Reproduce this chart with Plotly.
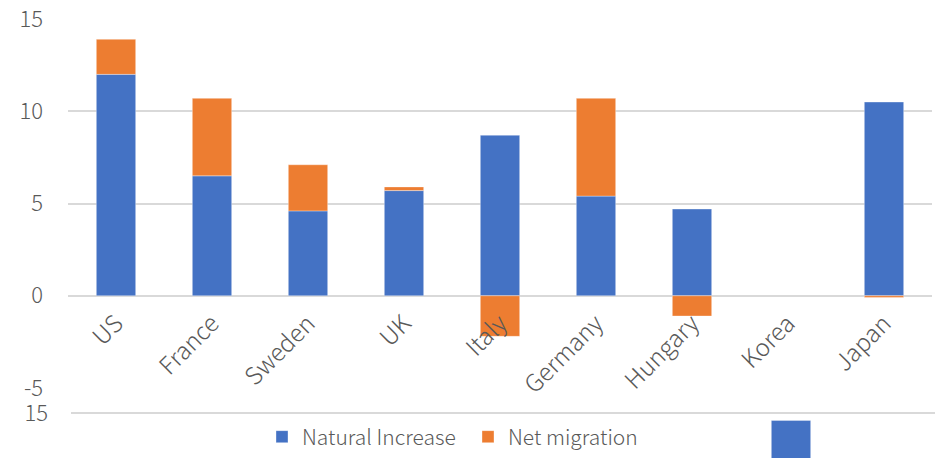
import plotly.graph_objects as go

# Population change components by country (per 1,000)
countries = ["US", "France", "Sweden", "UK", "Italy", "Germany", "Hungary", "Korea", "Japan"]
natural_increase = [12.0, 6.5, 4.6, 5.7, 8.7, 5.4, 4.7, None, 10.5]
net_migration = [1.9, 4.2, 2.5, 0.2, -2.2, 5.3, -1.1, None, -0.1]

# Lower panel (partly visible companion chart)
lower_values = [None, None, None, None, None, None, None, 14.6, None]

y_ticks = [-5, 0, 5, 10, 15]
y_tick_text = ["-5", "0", "5", "10", "15"]
lower_ticks = [15]

BLUE = "#4472C4"
ORANGE = "#ED7D31"
GRID = "#D9D9D9"
TEXT = "#595959"
FONT = "Noto Sans CJK JP"
EDGE = "rgba(255,255,255,0.35)"

W, H = 936, 458

fig = go.Figure()
fig.add_trace(go.Bar(
    x=countries, y=natural_increase, name="Natural Increase",
    marker=dict(color=BLUE, line=dict(color=EDGE, width=1)),
    xaxis="x", yaxis="y",
))
fig.add_trace(go.Bar(
    x=countries, y=net_migration, name="Net migration",
    marker=dict(color=ORANGE, line=dict(color=EDGE, width=1)),
    xaxis="x", yaxis="y",
))
fig.add_trace(go.Bar(
    x=countries, y=lower_values, name="", showlegend=False,
    marker=dict(color=BLUE, line=dict(color=EDGE, width=1)),
    xaxis="x2", yaxis="y2",
))

# pixel geometry of the two panels
main_top, main_bottom = 19, 388
px_per_unit = (main_bottom - main_top) / 20.0
zero_px = main_top + 15 * px_per_unit
lower_grid_px = 413
pad_units = 0.3
lower_top_px = lower_grid_px - pad_units * px_per_unit
lower_lo = 15 - (H - lower_grid_px) / px_per_unit

fig.update_layout(
    width=W, height=H,
    margin=dict(l=0, r=0, t=0, b=0),
    paper_bgcolor="white", plot_bgcolor="white",
    barmode="relative", bargap=0.59,
    font=dict(family=FONT, color=TEXT, size=21, weight=300),
    showlegend=True,
    legend=dict(
        orientation="h", x=262 / W, xanchor="left", y=(H - 437) / H, yanchor="middle",
        font=dict(family=FONT, size=21, color=TEXT, weight=300),
        entrywidth=161, entrywidthmode="pixels",
        bgcolor="rgba(0,0,0,0)",
    ),
    xaxis=dict(
        domain=[68 / W, 932 / W], anchor="free", position=(H - zero_px) / H,
        tickangle=-45, showgrid=False, showline=False, ticks="",
        ticklabelstandoff=8,
        tickfont=dict(family=FONT, size=24, color=TEXT, weight=300),
        automargin=False,
    ),
    yaxis=dict(
        domain=[(H - main_bottom) / H, (H - main_top) / H], anchor="x",
        range=[-5, 15], tickvals=y_ticks, ticktext=y_tick_text,
        showgrid=True, gridcolor=GRID, gridwidth=1.5,
        zeroline=True, zerolinecolor=GRID, zerolinewidth=1.5,
        showline=False, ticks="", ticklabelstandoff=24,
        tickfont=dict(family=FONT, size=22, color=TEXT, weight=300),
        automargin=False,
    ),
    xaxis2=dict(
        domain=[71 / W, 935 / W], anchor="y2",
        showticklabels=False, showgrid=False, showline=False, ticks="",
        automargin=False,
    ),
    yaxis2=dict(
        domain=[0, (H - lower_top_px) / H], anchor="x2",
        range=[lower_lo, 15 + pad_units], tickvals=lower_ticks,
        showgrid=True, gridcolor=GRID, gridwidth=1.5, zeroline=False,
        showline=False, ticks="", ticklabelstandoff=22,
        tickfont=dict(family=FONT, size=22, color=TEXT, weight=300),
        automargin=False,
    ),
)

fig.write_html("out.html")
